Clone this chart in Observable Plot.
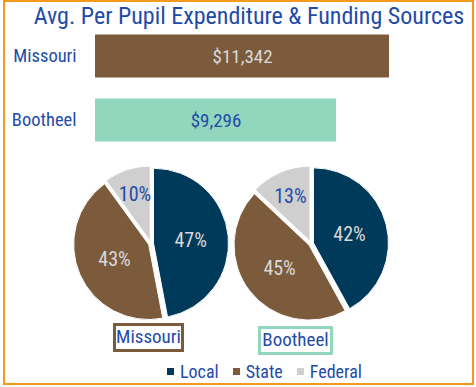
<!DOCTYPE html>
<html><head><meta charset="utf-8">
<script src="https://cdn.jsdelivr.net/npm/d3@7"></script>
<script src="https://cdn.jsdelivr.net/npm/@observablehq/plot@0.6"></script>
<style>
body{margin:0;background:#fff;}
#frame{position:relative;width:476px;height:387px;overflow:hidden;font-family:Roboto,"Open Sans",sans-serif;font-stretch:75%;color:#1F4BA8;}
#frame svg text{font-stretch:75%;}
#border{position:absolute;left:3px;top:0px;width:471px;height:385px;border:2px solid #F39A1E;box-sizing:border-box;}
#title{position:absolute;left:22px;width:454px;top:2px;text-align:center;font-size:24px;white-space:nowrap;}
#bars{position:absolute;left:0;top:20px;}
#pies{position:absolute;left:0;top:150px;}
.box{position:absolute;font-size:19px;text-align:center;box-sizing:border-box;line-height:22px;background:#fff;}
#legend{position:absolute;left:167px;top:355px;}
#legend div{font-family:Roboto,"Open Sans",sans-serif !important;font-stretch:75% !important;font-size:18px !important;color:#1F4BA8 !important;margin:0 !important;}
#legend .lg-swatch{margin-right:14px !important;}
#legend .lg-swatch > svg{margin-right:6px !important;}
</style></head>
<body>
<div id="frame">
  <div id="border"></div>
  <div id="title">Avg. Per Pupil Expenditure &amp; Funding Sources</div>
  <div id="bars"></div>
  <div id="pies"></div>
  <div id="boxes"></div>
  <div id="legend"></div>
</div>
<script>
// ---- data ----
const regions = ["Missouri", "Bootheel"];
const expenditure = [11342, 9296];
const sources = ["Local", "State", "Federal"];
const missouriShares = [47, 43, 10];
const bootheelShares = [42, 45, 13];

// ---- styles ----
const FONT = 'Roboto,"Open Sans",sans-serif';
const BLUE = "#1F4BA8";
const LIGHT = "#D9D9D9";
const regionColors = ["#7B5B3C", "#92D6BD"];
const sourceColors = ["#003A5B", "#7B5B3C", "#CFCFCF"];

const barData = regions.map((r, i) => ({region: r, value: expenditure[i]}));
const fmt = d3.format(",");

const bars = Plot.plot({
  width: 476, height: 135,
  marginLeft: 95, marginRight: 44, marginTop: 3.5, marginBottom: 3.5,
  x: {domain: [0, 13000], axis: null},
  y: {domain: regions, padding: 0, tickSize: 0, tickPadding: 19, label: null},
  color: {domain: regions, range: regionColors},
  style: {background: "transparent", color: BLUE, fontSize: "18.5px", fontFamily: FONT, fontStretch: "75%", overflow: "visible"},
  marks: [
    Plot.barX(barData, {x: "value", y: "region", fill: "region", insetTop: 10.5, insetBottom: 10.5}),
    Plot.text(barData.filter(d => d.region === "Missouri"), {x: d => d.value / 2, y: "region", text: d => "$" + fmt(d.value), fill: LIGHT, fontSize: 19}),
    Plot.text(barData.filter(d => d.region === "Bootheel"), {x: d => d.value / 2, y: "region", text: d => "$" + fmt(d.value), fill: BLUE, fontSize: 19})
  ]
});
document.getElementById("bars").appendChild(bars);

const pieData = [];
regions.forEach((r, i) => {
  const shares = i === 0 ? missouriShares : bootheelShares;
  sources.forEach((s, j) => pieData.push({region: r, source: s, share: shares[j]}));
});

const colorScale = Plot.scale({color: {domain: sources, range: sourceColors}});

function pieMark(index, scales, values, dims) {
  const g = d3.create("svg:g");
  const xs = scales.x;
  const bw = xs.bandwidth ? xs.bandwidth() : 160;
  const r = bw * 0.469;
  const cy = dims.marginTop + (dims.height - dims.marginTop - dims.marginBottom) / 2;
  const explode = 2.5;
  const color = scales.color || (v => colorScale.apply(v));
  for (const region of regions) {
    const rows = pieData.filter(d => d.region === region);
    const cx = xs(region) + bw / 2;
    const arcs = d3.pie().sort(null).value(d => d.share)(rows);
    const arc = d3.arc().innerRadius(0).outerRadius(r);
    const pg = g.append("g").attr("transform", `translate(${cx},${cy})`);
    for (const a of arcs) {
      const mid = (a.startAngle + a.endAngle) / 2;
      const ox = Math.sin(mid) * explode, oy = -Math.cos(mid) * explode;
      pg.append("path")
        .attr("d", arc(a))
        .attr("transform", `translate(${ox},${oy})`)
        .attr("fill", color(a.data.source))
        .attr("stroke", "#fff").attr("stroke-width", 1);
      const frac = a.data.share < 20 ? 0.69 : 0.53;
      const lx = Math.sin(mid) * r * frac, ly = -Math.cos(mid) * r * frac;
      pg.append("text")
        .attr("x", lx).attr("y", ly)
        .attr("text-anchor", "middle").attr("dominant-baseline", "central")
        .attr("font-size", 20).attr("font-family", FONT)
        .style("font-stretch", "75%")
        .attr("fill", a.data.source === "Federal" ? BLUE : LIGHT)
        .text(a.data.share + "%");
    }
  }
  return g.node();
}

const pies = Plot.plot({
  width: 476, height: 187,
  marginLeft: 71, marginRight: 85, marginTop: 0, marginBottom: 0,
  x: {domain: regions, type: "band", padding: 0, axis: null},
  y: {axis: null},
  color: {domain: sources, range: sourceColors},
  style: {background: "transparent", overflow: "visible"},
  marks: [
    Plot.dot(pieData, {x: "region", fill: "source", r: 0}),
    pieMark
  ]
});
document.getElementById("pies").appendChild(pies);

// region label boxes under pies
const boxes = document.getElementById("boxes");
const boxPos = [{left: 113, top: 323, width: 71}, {left: 258, top: 326, width: 75}];
regions.forEach((r, i) => {
  const b = document.createElement("div");
  b.className = "box";
  b.textContent = r;
  Object.assign(b.style, {left: boxPos[i].left + "px", top: boxPos[i].top + "px", width: boxPos[i].width + "px", height: "29px", border: `3px solid ${regionColors[i]}`});
  boxes.appendChild(b);
});

const legend = Plot.legend({color: {domain: sources, range: sourceColors}, swatchSize: 7, className: "lg"});
document.getElementById("legend").appendChild(legend);
</script>
</body></html>
